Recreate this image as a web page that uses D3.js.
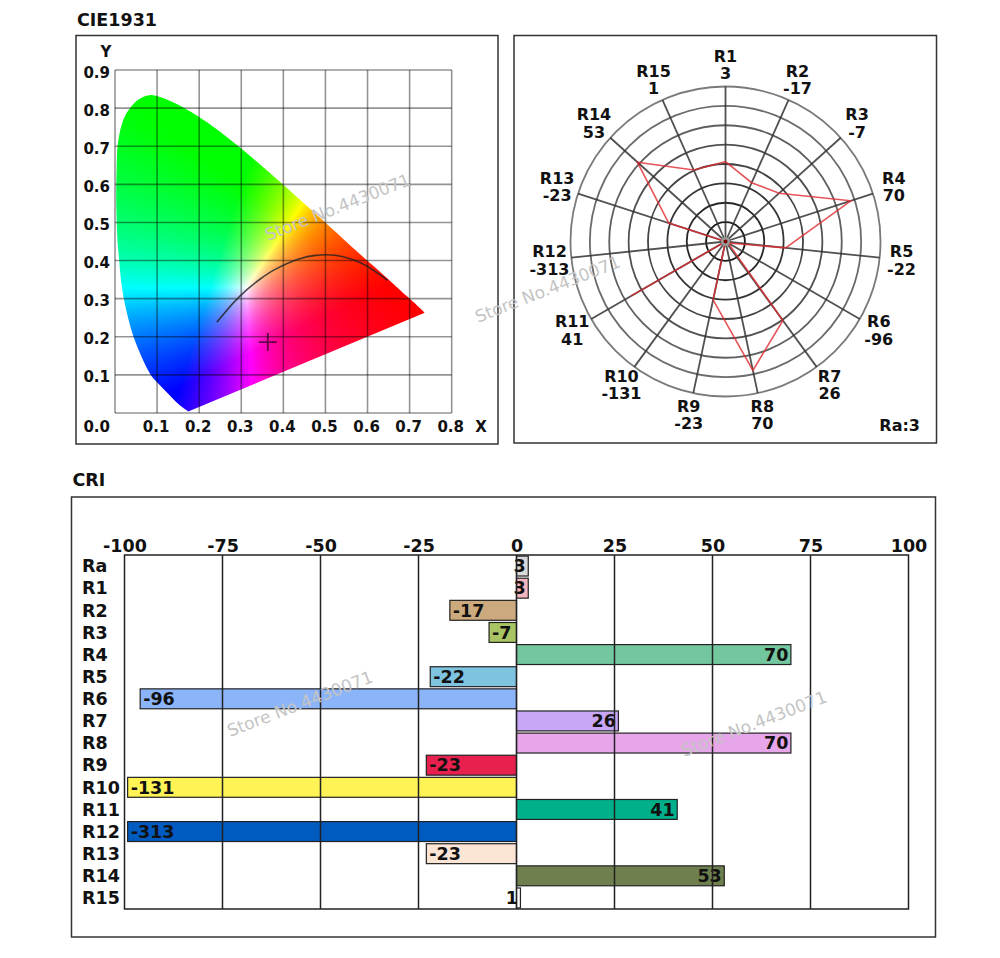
<!DOCTYPE html>
<html><head><meta charset="utf-8">
<script src="https://cdn.jsdelivr.net/npm/d3@7"></script>
<style>
body{margin:0;background:#fff;}
svg text{font-family:"DejaVu Sans",sans-serif;font-weight:bold;fill:#111;}
svg text.wm{font-weight:normal;fill:#c4c4c4;}
</style></head><body>
<svg id="chart" width="1000" height="958"></svg>
<script>
// ---------------- data ----------------
const cieXTicks = [0.1,0.2,0.3,0.4,0.5,0.6,0.7,0.8];
const cieYTicks = [0.1,0.2,0.3,0.4,0.5,0.6,0.7,0.8,0.9];
const locusX = [0.174,0.150,0.127,0.105,0.085,0.062,0.044,0.031,0.021,0.014,0.010,0.006,0.004,0.003,0.003,0.004,0.006,0.012,0.022,0.036,0.055,0.0815,0.110,0.155,0.230,0.302,0.373,0.444,0.5125,0.575,0.627,0.666,0.6915,0.719,0.736];
const locusY = [0.004,0.024,0.050,0.075,0.100,0.150,0.200,0.250,0.300,0.350,0.400,0.450,0.500,0.550,0.600,0.650,0.700,0.740,0.775,0.800,0.822,0.834,0.828,0.806,0.754,0.692,0.625,0.555,0.487,0.424,0.373,0.334,0.308,0.281,0.263];
const planckX = [0.242,0.2807,0.3135,0.3451,0.3805,0.4369,0.4770,0.5267,0.5857,0.6480];
const planckY = [0.238,0.2884,0.3236,0.3516,0.3768,0.4041,0.4137,0.4133,0.3931,0.3480];
const samplePoint = [0.363, 0.186];

const criNames  = ["R1","R2","R3","R4","R5","R6","R7","R8","R9","R10","R11","R12","R13","R14","R15"];
const criValues = [3,-17,-7,70,-22,-96,26,70,-23,-131,41,-313,-23,53,1];
const raValue = 3;
const ringLevels = [-75,-50,-25,0,25,50,75,100];

const barCategories = ["Ra","R1","R2","R3","R4","R5","R6","R7","R8","R9","R10","R11","R12","R13","R14","R15"];
const barValues = [3,3,-17,-7,70,-22,-96,26,70,-23,-131,41,-313,-23,53,1];
const barColors = ["#d9d9d9","#f5b5be","#cdaa7d","#a9c462","#73c79f","#7ec4e0","#8cb4f8","#c8a6f8","#e8a6ea","#e8204e","#fff356","#00b08a","#005bc0","#fde5d6","#6f7f4e","#ffffff"];
const barTicks = [-100,-75,-50,-25,0,25,50,75,100];

const watermark = "Store No.4430071";

// ---------------- setup ----------------
const svg = d3.select("#chart");
const defs = svg.append("defs");
const hy = d => String(d); // plain hyphen-minus like the reference

function panel(x0,y0,x1,y1){
  svg.append("rect").attr("x",x0).attr("y",y0).attr("width",x1-x0).attr("height",y1-y0)
    .attr("fill","none").attr("stroke","#333").attr("stroke-width",1.5);
}

// titles
svg.append("text").attr("x",77).attr("y",26).attr("font-size",17.5).text("CIE1931");
svg.append("text").attr("x",72.5).attr("y",486).attr("font-size",17.5).text("CRI");

panel(76,35.5,498,444);
panel(514,35.5,936.5,443);
panel(71.5,497,935.5,937);

// ---------------- CIE 1931 ----------------
const cx = d3.scaleLinear().domain([0,0.8]).range([115,451.7]);
const cy = d3.scaleLinear().domain([0,0.9]).range([413,70]);

const locus = locusX.map((x,i)=>[x,locusY[i]]);
const locusLine = d3.line().x(d=>cx(d[0])).y(d=>cy(d[1])).curve(d3.curveCatmullRom.alpha(0.5));
defs.append("clipPath").attr("id","locusClip").append("path").attr("d", locusLine(locus)+"Z");

(function(){
  const sc = 2;
  const x0 = cx(0), y0 = cy(0.9);
  const W = Math.ceil(cx(0.8)-x0), H = Math.ceil(cy(0)-y0);
  const cv = document.createElement("canvas");
  cv.width = W*sc; cv.height = H*sc;
  const ctx = cv.getContext("2d");
  const img = ctx.createImageData(cv.width, cv.height);
  for (let j=0;j<cv.height;j++){
    for (let i=0;i<cv.width;i++){
      const x = cx.invert(x0+(i+0.5)/sc), y = cy.invert(y0+(j+0.5)/sc);
      if (y<=0.0005) continue;
      const X = x/y, Z = (1-x-y)/y;
      let r = 3.2406*X - 1.5372 - 0.4986*Z;
      let g = -0.9689*X + 1.8758 + 0.0415*Z;
      let b = 0.0557*X - 0.2040 + 1.0570*Z;
      r=Math.max(0,r); g=Math.max(0,g); b=Math.max(0,b);
      const m = Math.max(r,g,b); if (m<=0) continue;
      r/=m; g/=m; b/=m;
      const k = (j*cv.width+i)*4;
      img.data[k]=Math.round(255*r); img.data[k+1]=Math.round(255*g); img.data[k+2]=Math.round(255*b); img.data[k+3]=255;
    }
  }
  ctx.putImageData(img,0,0);
  svg.append("image").attr("x",x0).attr("y",y0).attr("width",W).attr("height",H)
    .attr("preserveAspectRatio","none").attr("href",cv.toDataURL()).attr("clip-path","url(#locusClip)");
})();

// grid
const gGrid = svg.append("g").attr("stroke","#000").attr("stroke-opacity",0.42).attr("stroke-width",1.6);
gGrid.selectAll("line.v").data([0].concat(cieXTicks)).join("line")
  .attr("x1",d=>cx(d)).attr("x2",d=>cx(d)).attr("y1",cy(0)).attr("y2",cy(0.9));
gGrid.selectAll("line.h").data([0].concat(cieYTicks)).join("line")
  .attr("x1",cx(0)).attr("x2",cx(0.8)).attr("y1",d=>cy(d)).attr("y2",d=>cy(d));

// planck locus
const planck = planckX.map((x,i)=>[x,planckY[i]]);
svg.append("path").attr("d", d3.line().x(d=>cx(d[0])).y(d=>cy(d[1])).curve(d3.curveCatmullRom)(planck))
  .attr("fill","none").attr("stroke","#222").attr("stroke-opacity",0.8).attr("stroke-width",1.6);

// sample point cross
const sx = cx(samplePoint[0]), sy = cy(samplePoint[1]);
svg.append("path").attr("d",`M${sx-9},${sy}H${sx+9}M${sx},${sy-9}V${sy+9}`)
  .attr("stroke","#000").attr("stroke-opacity",0.6).attr("stroke-width",1.8);

// axes
const fmt = d3.format(".1f");
const gYA = svg.append("g").attr("transform","translate(110,0)")
  .call(d3.axisLeft(cy).tickValues(cieYTicks).tickSize(0).tickPadding(0).tickFormat(fmt));
gYA.select(".domain").remove();
gYA.selectAll("text").attr("font-size",15).attr("dy",null).attr("y",7);
const gXA = svg.append("g").attr("transform","translate(-1.5,431.5)")
  .call(d3.axisBottom(cx).tickValues(cieXTicks).tickSize(0).tickPadding(0).tickFormat(fmt));
gXA.select(".domain").remove();
gXA.selectAll("text").attr("font-size",15).attr("dy",null).attr("y",0);
svg.append("text").attr("x",110).attr("y",431.5).attr("text-anchor","end").attr("font-size",15).text(fmt(0));
svg.append("text").attr("x",481).attr("y",431.5).attr("text-anchor","middle").attr("font-size",15).text("X");
svg.append("text").attr("x",106).attr("y",57).attr("text-anchor","middle").attr("font-size",15).text("Y");

// ---------------- Radar ----------------
const rc = {x:725.5, y:241.5};
const R = 155;
const rs = d3.scaleLinear().domain([-100,100]).range([0,R]).clamp(true);
const ang = i => i*2*Math.PI/criNames.length;
const gR = svg.append("g").attr("transform",`translate(${rc.x},${rc.y})`);
const ringColor = d3.scaleLinear().domain([0,ringLevels.length-1]).range(["#1a1a1a","#7a7a7a"]);
gR.selectAll("circle.ring").data(ringLevels).join("circle").attr("class","ring")
  .attr("r",d=>rs(d)).attr("fill","none").attr("stroke",(d,i)=>ringColor(i)).attr("stroke-width",1.8);
gR.selectAll("line.spoke").data(criNames).join("line").attr("class","spoke")
  .attr("x1",0).attr("y1",0)
  .attr("x2",(d,i)=>R*Math.sin(ang(i))).attr("y2",(d,i)=>-R*Math.cos(ang(i)))
  .attr("stroke","#333").attr("stroke-opacity",0.85).attr("stroke-width",1.8);
gR.append("path")
  .attr("d", d3.lineRadial().angle((d,i)=>ang(i)).radius(d=>rs(d)).curve(d3.curveLinearClosed)(criValues))
  .attr("fill","none").attr("stroke","#e02a30").attr("stroke-opacity",0.8).attr("stroke-width",1.6);
gR.append("circle").attr("r",4.5).attr("fill","#9a9a9a");
gR.append("circle").attr("r",2).attr("fill","#700");
const LR = 177;
const lab = gR.selectAll("g.lab").data(criNames).join("g").attr("class","lab")
  .attr("transform",(d,i)=>`translate(${LR*Math.sin(ang(i))},${-LR*Math.cos(ang(i))})`);
lab.append("text").attr("text-anchor","middle").attr("font-size",16).attr("y",-8.7+5.8).text(d=>d);
lab.append("text").attr("text-anchor","middle").attr("font-size",16).attr("y",8.7+5.8).text((d,i)=>hy(criValues[i]));
svg.append("text").attr("x",920).attr("y",431).attr("text-anchor","end").attr("font-size",16).text("Ra:"+raValue);

// ---------------- Bar chart ----------------
const bx = d3.scaleLinear().domain([-100,100]).range([124.5,908.5]);
const by = d3.scaleBand().domain(barCategories).range([555,909]).paddingInner(0.1).paddingOuter(0.05);
const rowC = d3.scaleBand().domain(barCategories).range([555,909]);
const clampV = v => Math.max(-99.2, Math.min(99.2, v));

const gBars = svg.append("g");
gBars.selectAll("rect").data(barValues).join("rect")
  .attr("x",v=>Math.min(bx(0),bx(clampV(v))))
  .attr("width",v=>Math.abs(bx(clampV(v))-bx(0)))
  .attr("y",(v,i)=>by(barCategories[i]))
  .attr("height",by.bandwidth())
  .attr("fill",(v,i)=>barColors[i]).attr("stroke","#222").attr("stroke-width",1.2);

// grid
const gBG = svg.append("g").attr("stroke","#222").attr("stroke-width",1.5);
gBG.selectAll("line").data(barTicks.slice(1,-1)).join("line")
  .attr("x1",d=>bx(d)).attr("x2",d=>bx(d)).attr("y1",555).attr("y2",909);
svg.append("rect").attr("x",bx(-100)).attr("y",555).attr("width",bx(100)-bx(-100)).attr("height",909-555)
  .attr("fill","none").attr("stroke","#222").attr("stroke-width",1.5);

// value labels
gBars.selectAll("text").data(barValues).join("text")
  .attr("font-size",17.5)
  .attr("x",v=> v<0 ? bx(clampV(v))+3 : bx(clampV(v))-2.5)
  .attr("text-anchor",v=> v<0 ? "start":"end")
  .attr("y",(v,i)=>rowC(barCategories[i])+rowC.bandwidth()/2+6.3)
  .text(v=>hy(v));

// axis
const gBA = svg.append("g").attr("transform","translate(0,555)")
  .call(d3.axisTop(bx).tickValues(barTicks).tickSize(0).tickPadding(3).tickFormat(hy));
gBA.select(".domain").remove();
gBA.selectAll("text").attr("font-size",17.5);
svg.append("g").selectAll("text").data(barCategories).join("text")
  .attr("x",82).attr("y",d=>rowC(d)+rowC.bandwidth()/2+6.3).attr("font-size",17.5).text(d=>d);

// ---------------- watermarks ----------------
[[268,241,-21.5],[478,323,-21.5],[230,737,-21],[684,757,-21]].forEach(p=>{
  svg.append("text").attr("class","wm").attr("font-size",17)
    .attr("transform",`translate(${p[0]},${p[1]}) rotate(${p[2]})`).text(watermark);
});
</script>
</body></html>
